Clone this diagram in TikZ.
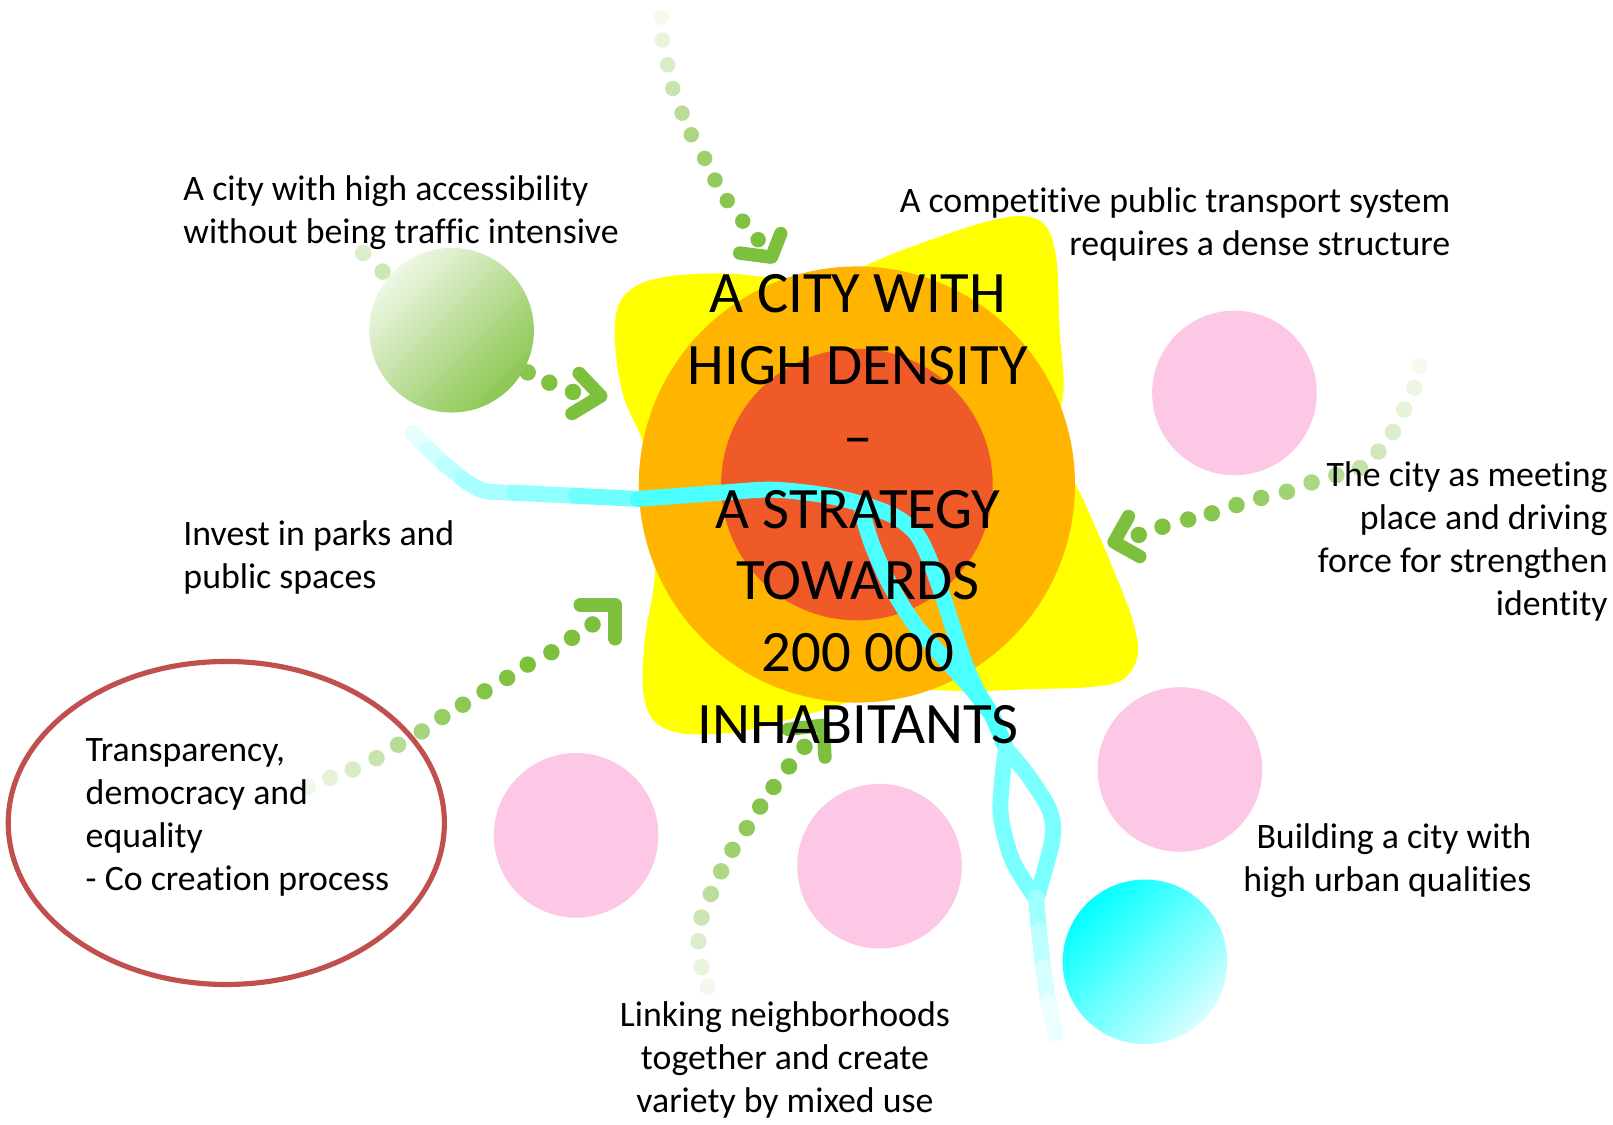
\documentclass[tikz,border=0pt]{standalone}
\usepackage{fontspec}
\setmainfont{Carlito}[Ligatures={NoCommon}]
\definecolor{ystar}{HTML}{FFFF00}
\definecolor{orng}{HTML}{FFB400}
\definecolor{redc}{HTML}{F05A28}
\definecolor{pinkc}{HTML}{FCC8E6}
\definecolor{grn}{RGB}{125,192,62}
\definecolor{ellc}{HTML}{C0504D}
\definecolor{glight}{HTML}{EEF7E6}
\definecolor{gdark}{HTML}{8CC751}
\definecolor{cyn}{RGB}{0,255,255}
\definecolor{clight}{HTML}{D8FFFF}
\begin{document}
\begin{tikzpicture}[x=0.02cm,y=-0.02cm,
  chev/.style={draw=grn, line width=0.26cm, line cap=round, line join=round},
  river/.style={line width=0.31cm, line cap=round, line join=round},
  txt/.style={font=\fontsize{19.8}{23.8}\selectfont, inner sep=0pt, text=black},
  titletxt/.style={font=\fontsize{32.5}{39.7}\selectfont, inner sep=0pt, align=center, text=black},
  blob/.style={fill=pinkc}
]
\useasboundingbox (0,0) rectangle (1568,1093.6);
\fill[white] (0,0) rectangle (1568,1093.6);

% yellow star
\fill[ystar] plot[smooth cycle, tension=0.55] coordinates {
  (639,488) (625,430) (606,385) (598,335) (601,297) (620,277) (655,268) (710,266)
  (798,272)
  (880,242) (950,218) (992,210) (1016,219) (1027,252) (1030,320) (1034,375)
  (1029,432)
  (1055,490) (1080,548) (1101,603) (1106,637) (1091,661) (1058,668) (1000,670) (945,672)
  (868,672)
  (790,693) (720,711) (664,713) (635,700) (625,670) (627,620) (636,565)};
\fill[orng] (833,471) circle[radius=212];
\fill[redc] (833,471) circle[radius=132];

% river
\draw[river, cyn!10] (401,421) -- (416,436);
\draw[river, cyn!18] (416,436) -- (432,451);
\draw[river, cyn!26] (432,451) -- (450,466);
\draw[river, cyn!34] plot[smooth] coordinates {(450,466) (470,477) (500,479)};
\draw[river, cyn!44] (500,479) -- (560,482);
\draw[river, cyn!56] (560,482) -- (620,485);
\draw[river, cyn!70] plot[smooth] coordinates {(620,485) (700,479) (750,476) (800,481) (838,490) (870,502) (890,518) (902,540) (916,578) (928,615) (938,645) (950,672) (965,697) (978,728)};
\draw[river, cyn!70] plot[smooth] coordinates {(838,498) (848,530) (866,570) (890,608) (918,640) (945,670) (960,690)};
\draw[river, cyn!52] plot[smooth] coordinates {(978,728) (974,760) (973,794) (984,836) (1006,872)};
\draw[river, cyn!52] plot[smooth] coordinates {(978,728) (998,752) (1020,787) (1023,816) (1008,872)};
\draw[river, cyn!38] (1007,872) -- (1010,905);
\draw[river, cyn!26] (1010,905) -- (1014,940);
\draw[river, cyn!16] (1014,940) -- (1019,975);
\draw[river, cyn!8] (1019,975) -- (1026,1005);

% dotted arrow from the top
\foreach \x/\y/\p in {643/17/8, 644/39/18, 649/63/30, 654/86/42, 663/110/54, 672/131/65, 685/154/75, 695/175/84, 707/195/91, 722/215/97, 737/233/100}
  \fill[grn!\p] (\x,\y) circle[radius=7.5];
\draw[chev] (759,227) -- (750,250) -- (719,246);

% dotted arrow through the green circle
\foreach \x/\y/\p in {353/246/28, 372/264/38, 400/285/50, 440/310/60, 480/337/80, 513/362/92, 534/372/98, 557/381/100}
  \fill[grn!\p] (\x,\y) circle[radius=8];
\draw[chev] (563,363) -- (584,385) -- (556,402);

% dotted arrow from the right
\foreach \x/\y/\p in {1380/356/8, 1375/377/14, 1365/398/20, 1354/420/28, 1340/439/36, 1322/455/45, 1299/462/55, 1275/469/64, 1251/478/72, 1226/484/80, 1202/491/86, 1178/499/91, 1155/505/95, 1130/512/98, 1107/520/100}
  \fill[grn!\p] (\x,\y) circle[radius=8];
\draw[chev] (1097,502) -- (1083,527) -- (1108,541);

% dotted arrow from the lower left
\foreach \x/\y/\p in {299/765/12, 321/756/20, 343/748/30, 366/737/42, 387/724/55, 410/711/68, 430/697/80, 450/685/88, 471/672/94, 493/659/98, 513/646/100, 536/634/100, 556/620/100, 576/607/100}
  \fill[grn!\p] (\x,\y) circle[radius=8];
\draw[chev] (564,588) -- (598,588) -- (598,621);

% dotted arrow from the bottom
\foreach \x/\y/\p in {688/959/10, 682/940/18, 679/915/28, 682/892/40, 691/869/52, 701/847/64, 712/826/75, 726/805/85, 739/784/92, 752/765/97, 767/745/100, 782/726/100}
  \fill[grn!\p] (\x,\y) circle[radius=8];
\draw[chev] (766,709) -- (800,705) -- (802,736);

% circles
\shade[top color=glight, bottom color=gdark, shading angle=45] (439,321) circle[radius=80];
\fill[blob] (1200,382) circle[radius=80];
\fill[blob] (1147,748) circle[radius=80];
\fill[blob] (560,812) circle[radius=80];
\fill[blob] (855,842) circle[radius=80];
\shade[top color=cyn, bottom color=clight, shading angle=45] (1113,935) circle[radius=80];

% red ellipse
\draw[ellc, line width=0.1cm] (220,800) ellipse[x radius=212, y radius=157];

% title
\node[titletxt] (title) at (834,495) {A CITY WITH\\HIGH DENSITY\\–\\A STRATEGY\\TOWARDS\\200 000\\INHABITANTS};

% labels
\node[txt, anchor=north west, align=left] (access) at (178,165.6) {\strut A city with high accessibility\\without being traffic intensive};
\node[txt, anchor=north east, align=right] (transport) at (1410,176.6) {\strut A competitive public transport system\\requires a dense structure};
\node[txt, anchor=north east, align=right] (meeting) at (1563,443.6) {\strut The city as meeting\\place and driving\\force for strengthen\\identity};
\node[txt, anchor=north west, align=left] (parks) at (178,500.6) {\strut Invest in parks and\\public spaces};
\node[txt, anchor=north west, align=left] (transp) at (83,710.6) {\strut Transparency,\\democracy and\\equality\\- Co creation process};
\node[txt, anchor=north east, align=right] (quality) at (1489,795.6) {\strut Building a city with\\high urban qualities};
\node[txt, anchor=north, align=center] (linking) at (763,968.6) {\strut Linking neighborhoods\\together and create\\variety by mixed use};
\end{tikzpicture}
\end{document}
